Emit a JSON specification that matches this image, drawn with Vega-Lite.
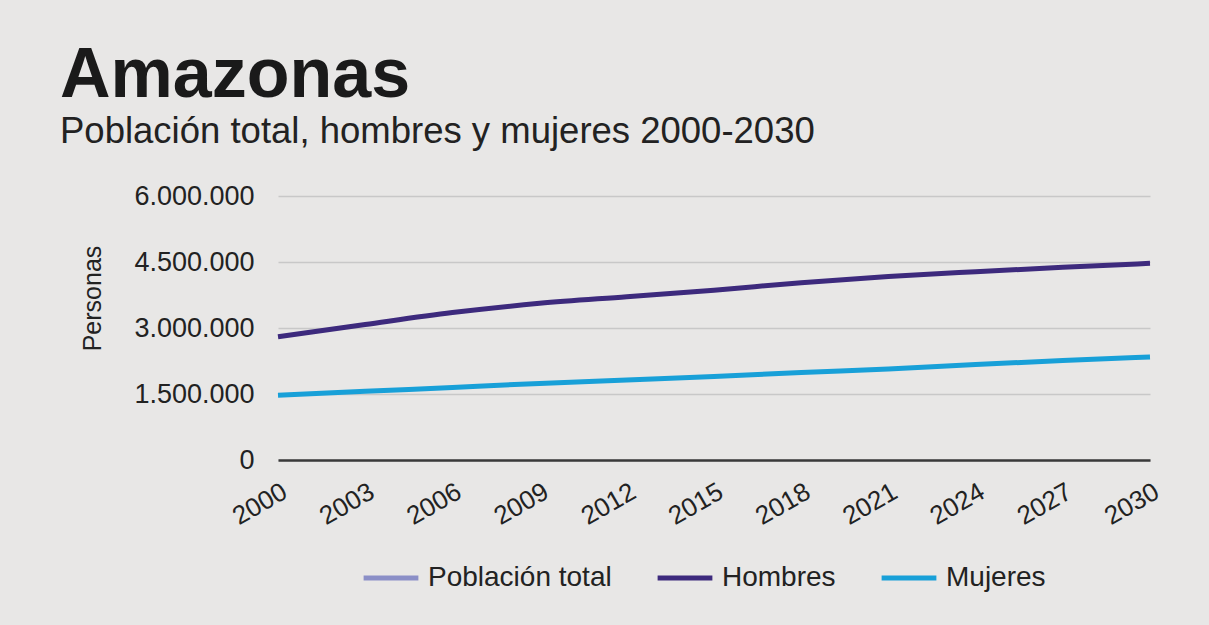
{
  "$schema": "https://vega.github.io/schema/vega-lite/v6.json",
  "autosize": {"type": "none"},
  "width": 872,
  "height": 264,
  "padding": {"left": 278, "top": 196, "right": 59, "bottom": 165},
  "background": "#e8e7e6",
  "title": {
    "text": "Amazonas",
    "subtitle": "Población total, hombres y mujeres 2000-2030",
    "anchor": "start",
    "frame": "group",
    "dx": -218,
    "offset": 31,
    "font": "Liberation Sans",
    "fontSize": 70,
    "fontWeight": "bold",
    "color": "#1a1a1a",
    "subtitleFont": "Liberation Sans",
    "subtitleFontSize": 36.5,
    "subtitleColor": "#222222",
    "subtitlePadding": 2
  },
  "data": {
    "values": [
      {"year": 2000, "serie": "Hombres", "value": 2800000},
      {"year": 2003, "serie": "Hombres", "value": 3080000},
      {"year": 2006, "serie": "Hombres", "value": 3350000},
      {"year": 2009, "serie": "Hombres", "value": 3560000},
      {"year": 2012, "serie": "Hombres", "value": 3710000},
      {"year": 2015, "serie": "Hombres", "value": 3860000},
      {"year": 2018, "serie": "Hombres", "value": 4030000},
      {"year": 2021, "serie": "Hombres", "value": 4170000},
      {"year": 2024, "serie": "Hombres", "value": 4280000},
      {"year": 2027, "serie": "Hombres", "value": 4380000},
      {"year": 2030, "serie": "Hombres", "value": 4470000},
      {"year": 2000, "serie": "Mujeres", "value": 1470000},
      {"year": 2003, "serie": "Mujeres", "value": 1560000},
      {"year": 2006, "serie": "Mujeres", "value": 1650000},
      {"year": 2009, "serie": "Mujeres", "value": 1740000},
      {"year": 2012, "serie": "Mujeres", "value": 1820000},
      {"year": 2015, "serie": "Mujeres", "value": 1900000},
      {"year": 2018, "serie": "Mujeres", "value": 1990000},
      {"year": 2021, "serie": "Mujeres", "value": 2070000},
      {"year": 2024, "serie": "Mujeres", "value": 2170000},
      {"year": 2027, "serie": "Mujeres", "value": 2260000},
      {"year": 2030, "serie": "Mujeres", "value": 2340000}
    ]
  },
  "mark": {"type": "line", "strokeWidth": 5, "interpolate": "monotone", "strokeCap": "butt"},
  "encoding": {
    "x": {
      "field": "year",
      "type": "quantitative",
      "scale": {"domain": [2000, 2030], "nice": false, "zero": false},
      "axis": {
        "title": null,
        "values": [2000, 2003, 2006, 2009, 2012, 2015, 2018, 2021, 2024, 2027, 2030],
        "format": "d",
        "grid": false,
        "ticks": false,
        "domain": true,
        "domainColor": "#3a3a3a",
        "domainWidth": 2.5,
        "labelAngle": -30,
        "labelAlign": "right",
        "labelBaseline": "top",
        "labelPadding": 18,
        "labelFont": "Liberation Sans",
        "labelFontSize": 26,
        "labelColor": "#222222",
        "labelFlush": false,
        "labelOverlap": false
      }
    },
    "y": {
      "field": "value",
      "type": "quantitative",
      "scale": {"domain": [0, 6000000], "nice": false},
      "axis": {
        "title": "Personas",
        "titleFont": "Liberation Sans",
        "titleFontSize": 25,
        "titleFontWeight": "normal",
        "titleColor": "#222222",
        "titlePadding": 28,
        "titleY": 102,
        "values": [0, 1500000, 3000000, 4500000, 6000000],
        "labelExpr": "replace(format(datum.value, ',d'), regexp(',', 'g'), '.')",
        "labelFont": "Liberation Sans",
        "labelFontSize": 27,
        "labelColor": "#222222",
        "labelPadding": 24,
        "ticks": false,
        "domain": false,
        "grid": true,
        "gridColor": "#c8c8c8",
        "gridWidth": 1.5
      }
    },
    "color": {
      "field": "serie",
      "type": "nominal",
      "scale": {
        "domain": ["Población total", "Hombres", "Mujeres"],
        "range": ["#8b8fc7", "#3d2a7d", "#18a0d8"]
      },
      "legend": {
        "title": null,
        "orient": "none",
        "legendX": 83,
        "legendY": 352,
        "direction": "horizontal",
        "symbolType": "stroke",
        "symbolSize": 3000,
        "symbolStrokeWidth": 5,
        "labelFont": "Liberation Sans",
        "labelFontSize": 28,
        "labelColor": "#222222",
        "labelLimit": 400,
        "labelOffset": 7,
        "columnPadding": 35,
        "padding": 0
      }
    }
  },
  "config": {"view": {"stroke": null}}
}
